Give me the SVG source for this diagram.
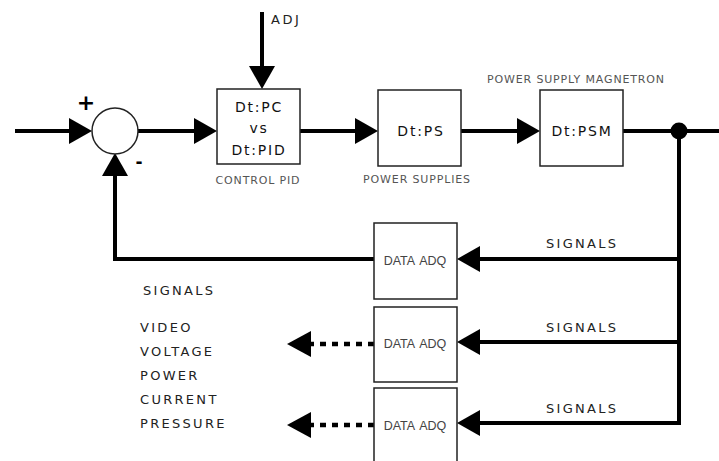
<svg xmlns="http://www.w3.org/2000/svg" width="719" height="461" viewBox="0 0 719 461">
<style>
.box{fill:#fff;stroke:#222;stroke-width:1.5}
.ln{fill:none;stroke:#000;stroke-width:4}
.dash{fill:none;stroke:#000;stroke-width:4.5;stroke-dasharray:6,6}
.big{font-family:"DejaVu Sans",sans-serif;font-size:14px;letter-spacing:1.8px;fill:#111;text-anchor:middle}
.sig{font-family:"DejaVu Sans",sans-serif;font-size:13px;letter-spacing:2.3px;fill:#222}
.lbl{font-family:"DejaVu Sans",sans-serif;font-size:11px;letter-spacing:0.85px;fill:#555;text-anchor:middle}
.adq{font-family:"Liberation Sans",Arial,sans-serif;font-size:12.5px;word-spacing:2px;fill:#444;text-anchor:middle}
.sym{font-family:"DejaVu Sans",sans-serif;font-weight:bold;fill:#000;text-anchor:middle}
</style>
<defs>
<marker id="ah" markerUnits="userSpaceOnUse" markerWidth="24" markerHeight="26" refX="0" refY="13" orient="auto" overflow="visible">
<path d="M0,0 L23,13 L0,26 Z" fill="#000"/>
</marker>
</defs>
<g id="connectors">
<path class="ln" d="M15,131 H69" marker-end="url(#ah)"/>
<path class="ln" d="M138,131 H194" marker-end="url(#ah)"/>
<path class="ln" d="M262,12 V66" marker-end="url(#ah)"/>
<path class="ln" d="M300,131 H355" marker-end="url(#ah)"/>
<path class="ln" d="M461,131 H517" marker-end="url(#ah)"/>
<path class="ln" d="M623,131 H719"/>
<path class="ln" d="M679,131 V425"/>
<path class="ln" d="M681,259 H480" marker-end="url(#ah)"/>
<path class="ln" d="M681,342 H480" marker-end="url(#ah)"/>
<path class="ln" d="M681,423 H480" marker-end="url(#ah)"/>
<path class="ln" d="M374,259 H115 V176" marker-end="url(#ah)"/>
<path class="dash" d="M374,344 H310"/>
<path d="M311,331 L287,344 L311,357 Z" fill="#000"/>
<path class="dash" d="M374,425 H310"/>
<path d="M311,412 L287,425 L311,438 Z" fill="#000"/>
<circle cx="679" cy="131" r="8.5" fill="#000"/>
<text class="sig" x="546" y="248">SIGNALS</text>
<text class="sig" x="546" y="332">SIGNALS</text>
<text class="sig" x="546" y="413">SIGNALS</text>
<text class="sig" x="271" y="24" style="letter-spacing:2.5px">ADJ</text>
</g>
<g id="sum">
<circle cx="115" cy="131" r="23" fill="#fff" stroke="#222" stroke-width="1.5"/>
<text class="sym" x="86" y="110" font-size="22">+</text>
<text class="sym" x="139" y="168" font-size="17">-</text>
</g>
<g id="pc">
<rect class="box" x="217" y="89" width="83" height="75"/>
<text class="big" x="259" y="112">Dt:PC</text>
<text class="big" x="259" y="133">vs</text>
<text class="big" x="259" y="155">Dt:PID</text>
<text class="lbl" x="258" y="184">CONTROL PID</text>
</g>
<g id="ps">
<rect class="box" x="378" y="90" width="83" height="76"/>
<text class="big" x="421" y="136">Dt:PS</text>
<text class="lbl" x="417" y="183">POWER SUPPLIES</text>
</g>
<g id="psm">
<rect class="box" x="540" y="90" width="83" height="76"/>
<text class="big" x="582" y="136">Dt:PSM</text>
<text class="lbl" x="576" y="83">POWER SUPPLY MAGNETRON</text>
</g>
<g id="adq1">
<rect class="box" x="374" y="223" width="83" height="76"/>
<text class="adq" x="415" y="265">DATA ADQ</text>
</g>
<g id="adq2">
<rect class="box" x="374" y="307" width="83" height="75"/>
<text class="adq" x="415" y="348">DATA ADQ</text>
</g>
<g id="adq3">
<rect class="box" x="374" y="388" width="83" height="80"/>
<text class="adq" x="415" y="430">DATA ADQ</text>
</g>
<g id="signals-list">
<text class="sig" x="143" y="295">SIGNALS</text>
<text class="sig" x="140" y="332">VIDEO</text>
<text class="sig" x="140" y="356">VOLTAGE</text>
<text class="sig" x="140" y="380">POWER</text>
<text class="sig" x="140" y="404">CURRENT</text>
<text class="sig" x="140" y="428">PRESSURE</text>
</g>
</svg>
